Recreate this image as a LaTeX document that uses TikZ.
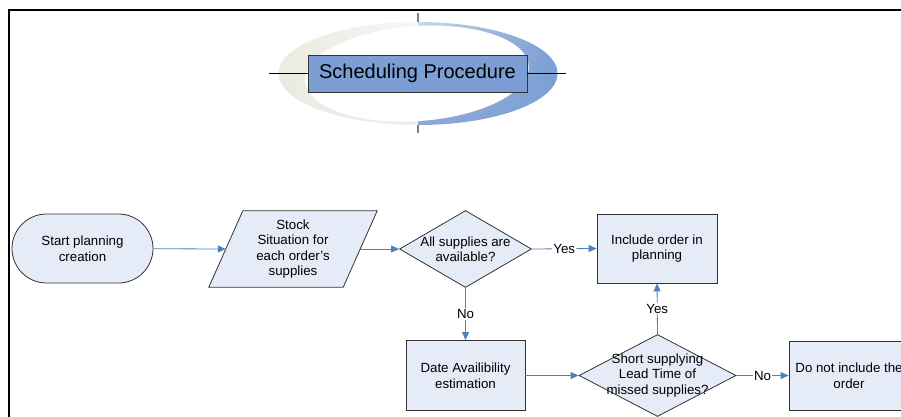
\documentclass[tikz,border=0pt]{standalone}
\usepackage{fontspec}
\setmainfont{Liberation Sans}
\usetikzlibrary{shapes.geometric,arrows.meta,calc,backgrounds,shadings}
\definecolor{boxfill}{HTML}{E6ECF7}
\definecolor{flowblue}{HTML}{4F81BD}
\definecolor{titleblue}{HTML}{7B9FD4}
\definecolor{ringblue}{HTML}{7A9DD2}
\definecolor{ringbeige}{HTML}{EAEAE0}
\definecolor{edge}{HTML}{333333}
\begin{document}
\begin{tikzpicture}[x=1pt,y=-1pt,
  every node/.style={font=\fontsize{13.3}{15.5}\selectfont, align=center, inner sep=0pt},
  shapeborder/.style={draw=edge, fill=boxfill, line width=0.8pt},
  stepbox/.style={shapeborder, rectangle, minimum width=120pt, minimum height=69pt},
  terminal/.style={shapeborder, rectangle, rounded corners=34.5pt, minimum width=141pt, minimum height=69pt},
  decision/.style={shapeborder, diamond},
  flow/.style={draw=flowblue, line width=0.8pt, -{Triangle[length=8pt,width=7pt]}},
  lbl/.style={fill=white, inner sep=1pt},
  titlebox/.style={draw=edge, fill=titleblue, line width=0.8pt, minimum width=219pt, minimum height=37pt,
    font=\fontsize{20}{24}\selectfont}
]
\useasboundingbox (0,0) rectangle (901,417);

% page frame
\draw[line width=2pt] (9,417) -- (9,10) -- (902,10);

% title ring: beige left crescent, blue right crescent, white core
\begin{scope}
  \clip (270,0) rectangle (418,150);
  \clip (418,73.5) ellipse [x radius=139.5, y radius=51.5];
  \shade[upper left=ringbeige, upper right=ringbeige!35, lower left=ringbeige, lower right=ringbeige!80]
    (270,20) rectangle (418,127);
\end{scope}
\begin{scope}
  \clip (418,0) rectangle (570,150);
  \clip (418,73.5) ellipse [x radius=139.5, y radius=51.5];
  \shade[upper left=ringblue!40, upper right=ringblue, lower left=ringblue!90, lower right=ringblue]
    (418,20) rectangle (560,127);
\end{scope}
\fill[white, rotate around={4:(418,73.5)}] (417,73.5) ellipse [x radius=112, y radius=47.5];
\draw[gray, line width=1.2pt] (418,13) -- (418,22.5);
\draw[gray, line width=1.2pt] (418,124.5) -- (418,133);

\node[titlebox] (title) at (417.5,73.5) {Scheduling Procedure};
\draw[line width=0.8pt] (title.west) -- ++(-39,0);
\draw[line width=0.8pt] (title.east) -- ++(39,0);

% flow chart
\node[terminal] (start) at (82.5,248.5) {Start planning\\creation};
\node[minimum width=134pt, minimum height=76pt] (stock) at (293,249)
  {Stock\\Situation for\\each order's\\supplies};
\begin{scope}[on background layer]
  \draw[shapeborder] ($(stock.south west)+(-17,0)$) -- ($(stock.south east)+(-17,0)$)
    -- ($(stock.north east)+(17,0)$) -- ($(stock.north west)+(17,0)$) -- cycle;
\end{scope}

\node[decision, minimum width=132pt, minimum height=77pt] (avail) at (465.5,249) {};
\node (availtext) at (avail) {All supplies are\\available?};

\node[stepbox] (include) at (657,248.5) {Include order in\\planning};
\node[stepbox, minimum width=119pt, minimum height=70pt] (date) at (465.5,375.5) {Date Availibility\\estimation};

\node[decision, minimum width=157pt, minimum height=82pt] (short) at (657.5,375.5) {};
\node (shorttext) at (short) {Short supplying\\Lead Time of\\missed supplies?};

\node[stepbox] (dont) at (849,375.5) {Do not include the\\order};

\draw[flow] (start) -- (stock.west);
\draw[flow] (stock.east) -- (avail.west);
\draw[flow] (avail.east) -- node[lbl] (yes1) {Yes} (include.west);
\draw[flow] (avail.south) -- node[lbl] (no1) {No} (date.north);
\draw[flow] (date.east) -- (short.west);
\draw[flow] (short.north) -- node[lbl] (yes2) {Yes} (include.south);
\draw[flow] (short.east) -- node[lbl] (no2) {No} (dont.west);
\end{tikzpicture}
\end{document}
